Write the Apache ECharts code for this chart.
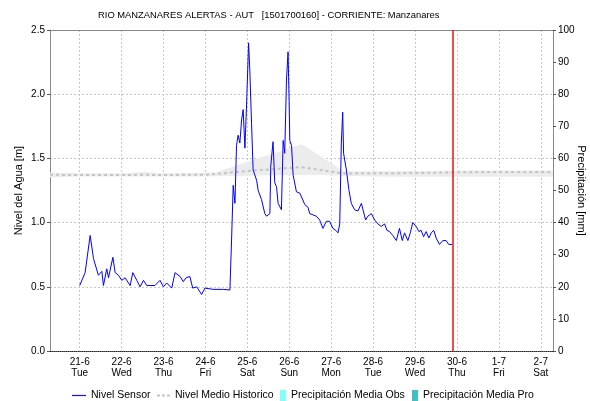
<!DOCTYPE html>
<html>
<head>
<meta charset="utf-8">
<script src="https://cdn.jsdelivr.net/npm/echarts@6/dist/echarts.min.js"></script>
<style>
  html, body { margin: 0; padding: 0; background: #ffffff; }
  #chart { width: 590px; height: 401px; }
</style>
</head>
<body>
<div id="chart"></div>
<script>
// Time is counted in hours from 21-6 (Tue) 00:00.
const axisStartHour = -17;
const axisEndHour = 271;
const nowHour = 213.4;

const dayTicks = [0, 24, 48, 72, 96, 120, 144, 168, 192, 216, 240, 264];
const dayLabels = ['21-6\nTue', '22-6\nWed', '23-6\nThu', '24-6\nFri', '25-6\nSat', '26-6\nSun',
                   '27-6\nMon', '28-6\nTue', '29-6\nWed', '30-6\nThu', '1-7\nFri', '2-7\nSat'];

// Nivel Sensor [m]
const sensorHours = [
  0, 3.1, 6.0, 7.9, 8.9, 10.7, 12.7, 13.6, 15.5, 16.5,
  19.0, 20.3, 22.2, 24.1, 26.0, 28.9, 30.4, 32.7, 34.6, 36.5,
  38.4, 43.1, 46.0, 47.9, 49.8, 52.7, 54.6, 57.5, 59.3, 60.9,
  63.1, 64.7, 67.0, 69.8, 71.7, 76.5, 82.2, 86.0, 87.0, 87.9,
  88.9, 89.8, 90.7, 91.7, 92.7, 93.6, 94.6, 95.5, 96.7, 97.4,
  98.4, 99.3, 101.3, 102.2, 104.1, 106.0, 107.0, 108.9, 109.4, 110.7,
  111.7, 112.7, 113.6, 115.5, 116.5, 117.4, 118.4, 119.3, 119.9, 120.3,
  121.3, 122.2, 124.1, 126.0, 127.0, 128.9, 130.7, 131.7, 133.6, 135.5,
  137.4, 139.3, 141.2, 143.1, 145.0, 146.6, 147.9, 148.9, 149.8, 150.6,
  151.1, 152.7, 154.2, 155.5, 157.4, 159.3, 161.3, 162.2, 163.7, 165.0,
  167.0, 168.9, 170.7, 172.7, 174.6, 175.9, 177.4, 179.3, 181.3, 183.1,
  184.7, 186.0, 187.9, 189.3, 190.7, 192.7, 194.2, 195.5, 196.9, 198.4,
  199.9, 201.3, 202.7, 204.1, 206.0, 207.9, 209.8, 211.3, 213.3
];
const sensorLevel = [
  0.51, 0.61, 0.90, 0.72, 0.71, 0.59, 0.62, 0.51, 0.64, 0.57,
  0.73, 0.61, 0.59, 0.55, 0.57, 0.51, 0.61, 0.55, 0.50, 0.55,
  0.51, 0.51, 0.55, 0.50, 0.53, 0.49, 0.61, 0.58, 0.54, 0.57,
  0.58, 0.49, 0.50, 0.44, 0.49, 0.48, 0.48, 0.475, 0.88, 1.29,
  1.15, 1.60, 1.68, 1.62, 1.80, 1.88, 1.58, 1.90, 2.40, 2.19,
  1.77, 1.41, 1.33, 1.25, 1.18, 1.07, 1.05, 1.07, 1.44, 1.63,
  1.31, 1.28, 1.15, 1.10, 1.64, 1.54, 2.11, 2.33, 1.95, 1.64,
  1.60, 1.37, 1.24, 1.23, 1.20, 1.14, 1.12, 1.07, 1.06, 1.05,
  1.02, 0.955, 1.01, 1.01, 0.955, 0.94, 0.92, 0.99, 1.62, 1.86,
  1.54, 1.41, 1.25, 1.15, 1.10, 1.09, 1.15, 1.14, 1.02, 1.05,
  1.07, 1.02, 0.99, 0.97, 0.99, 0.94, 0.93, 0.90, 0.86, 0.955,
  0.86, 0.92, 0.86, 0.92, 1.00, 0.97, 0.93, 0.94, 0.89, 0.93,
  0.88, 0.92, 0.94, 0.88, 0.83, 0.86, 0.86, 0.83, 0.83
];

// Nivel Medio Historico [m] with its min / max band
const histHours = [-17, 0, 24, 36, 48, 72, 78, 90, 104, 116, 127, 140, 151, 168, 192, 216, 240, 271];
const histMean  = [1.372, 1.371, 1.371, 1.372, 1.371, 1.373, 1.378, 1.395, 1.410, 1.422, 1.432, 1.405, 1.383, 1.384, 1.386, 1.392, 1.395, 1.395];
const histLow   = [1.352, 1.360, 1.360, 1.360, 1.360, 1.360, 1.361, 1.363, 1.366, 1.368, 1.370, 1.370, 1.365, 1.360, 1.358, 1.358, 1.358, 1.358];
const histHigh  = [1.390, 1.385, 1.385, 1.394, 1.385, 1.388, 1.392, 1.445, 1.510, 1.560, 1.610, 1.500, 1.400, 1.400, 1.402, 1.405, 1.405, 1.405];

// Precipitación [mm] (no rainfall recorded in this period)
const precipObs = [];
const precipPro = [];

const pairs = (xs, ys) => xs.map((x, i) => [x, ys[i]]);

const FONT = 'Liberation Sans, Arial, sans-serif';
const chart = echarts.init(document.getElementById('chart'), null, { renderer: 'canvas' });

// Historic min/max envelope drawn as one polygon through the axis scales
function renderHistBand(params, api) {
  const upper = histHours.map((h, i) => api.coord([h, histHigh[i]]));
  const lower = histHours.map((h, i) => api.coord([h, histLow[i]])).reverse();
  return {
    type: 'polygon',
    shape: { points: upper.concat(lower) },
    style: { fill: '#ececec', stroke: null },
    silent: true
  };
}

const legendBase = {
  orient: 'horizontal',
  top: 390,
  itemHeight: 11,
  padding: 0,
  selectedMode: false,
  textStyle: { fontFamily: FONT, fontSize: 10.5, color: '#000' }
};

chart.setOption({
  backgroundColor: '#ffffff',
  animation: false,
  title: {
    text: 'RIO MANZANARES ALERTAS - AUT   [1501700160] - CORRIENTE: Manzanares',
    left: 98,
    top: 11,
    padding: 0,
    textStyle: { fontFamily: FONT, fontSize: 9.4, fontWeight: 'normal', color: '#000' }
  },
  legend: [
    Object.assign({}, legendBase, {
      left: 72, itemWidth: 14,
      data: [{
        name: 'Nivel Sensor',
        icon: 'path://M0,0H14V1.2H0Z',
        itemStyle: { color: '#1010ff', borderWidth: 0 },
        lineStyle: { width: 0 }
      }]
    }),
    Object.assign({}, legendBase, {
      left: 157, itemWidth: 13,
      data: [{
        name: 'Nivel Medio Historico',
        icon: 'path://M0,0H3V2H0Z M5,0H8V2H5Z M10,0H13V2H10Z',
        itemStyle: { color: '#c4c4c4', borderWidth: 0 },
        lineStyle: { width: 0 }
      }]
    }),
    Object.assign({}, legendBase, {
      left: 280, itemWidth: 6,
      data: [{ name: 'Precipitación Media Obs', icon: 'rect' }]
    }),
    Object.assign({}, legendBase, {
      left: 412, itemWidth: 6,
      data: [{ name: 'Precipitación Media Pro', icon: 'rect' }]
    })
  ],
  grid: { left: 50, right: 37, top: 30, bottom: 50, containLabel: false, outerBoundsMode: 'none' },
  xAxis: [
    {
      type: 'value',
      position: 'bottom',
      min: axisStartHour,
      max: axisEndHour,
      axisLine: { show: true, onZero: false, lineStyle: { color: '#222', width: 1, type: [1, 1] } },
      axisTick: { show: false, customValues: dayTicks },
      axisLabel: {
        customValues: dayTicks,
        margin: 6,
        lineHeight: 11,
        fontFamily: FONT,
        fontSize: 10,
        color: '#000',
        formatter: v => dayLabels[dayTicks.indexOf(v)] || ''
      },
      splitLine: { show: true, lineStyle: { color: '#c8c8c8', type: [2, 2], width: 1 } }
    },
    {
      type: 'value',
      position: 'top',
      min: axisStartHour,
      max: axisEndHour,
      axisLine: { show: true, onZero: false, lineStyle: { color: '#888', width: 1 } },
      axisTick: { show: false },
      axisLabel: { show: false },
      splitLine: { show: false }
    }
  ],
  yAxis: [
    {
      type: 'value',
      position: 'left',
      min: 0,
      max: 2.5,
      interval: 0.5,
      name: 'Nivel del Agua [m]',
      nameLocation: 'middle',
      nameRotate: 90,
      nameGap: 26,
      nameMoveOverlap: false,
      nameTextStyle: { fontFamily: FONT, fontSize: 11, color: '#000' },
      axisLine: { show: true, onZero: false, lineStyle: { color: '#888', width: 1 } },
      axisTick: { show: true, inside: false, length: 3, lineStyle: { color: '#555' } },
      axisLabel: { margin: 5, fontFamily: FONT, fontSize: 10, color: '#000', formatter: v => v.toFixed(1) },
      splitLine: { show: true, lineStyle: { color: '#c8c8c8', type: [2, 2], width: 1 } }
    },
    {
      type: 'value',
      position: 'right',
      min: 0,
      max: 100,
      interval: 10,
      name: 'Precipitación [mm]',
      nameLocation: 'middle',
      nameRotate: -90,
      nameGap: 23,
      nameMoveOverlap: false,
      nameTextStyle: { fontFamily: FONT, fontSize: 11, color: '#000' },
      axisLine: { show: true, onZero: false, lineStyle: { color: '#888', width: 1 } },
      axisTick: { show: true, inside: false, length: 3, lineStyle: { color: '#555' } },
      axisLabel: { margin: 5, fontFamily: FONT, fontSize: 10, color: '#000' },
      splitLine: { show: false }
    }
  ],
  series: [
    {
      name: 'hist-band',
      type: 'custom',
      renderItem: renderHistBand,
      data: [0],
      silent: true,
      z: 1
    },
    {
      name: 'Nivel Medio Historico',
      type: 'line',
      data: pairs(histHours, histMean),
      symbol: 'none',
      silent: true,
      color: '#c4c4c4',
      lineStyle: { color: '#c4c4c4', width: 2, type: [3, 3] },
      z: 2
    },
    {
      name: 'Nivel Sensor',
      type: 'line',
      data: pairs(sensorHours, sensorLevel),
      symbol: 'none',
      color: '#0000ff',
      lineStyle: { color: '#0000ff', width: 1 },
      z: 3,
      markLine: {
        silent: true,
        symbol: ['none', 'none'],
        label: { show: false },
        lineStyle: { color: '#ee1111', type: 'solid', width: 1.5 },
        data: [{ xAxis: nowHour }]
      }
    },
    {
      name: 'Precipitación Media Obs',
      type: 'bar',
      yAxisIndex: 1,
      data: precipObs,
      itemStyle: { color: '#80ffff' }
    },
    {
      name: 'Precipitación Media Pro',
      type: 'bar',
      yAxisIndex: 1,
      data: precipPro,
      itemStyle: { color: '#40c0c0' }
    }
  ]
});
</script>
</body>
</html>
